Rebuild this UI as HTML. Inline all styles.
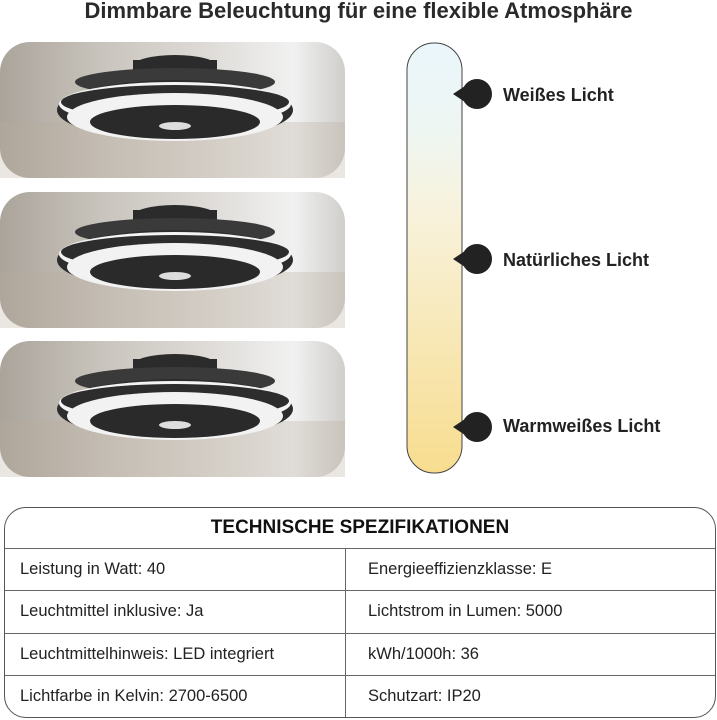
<!DOCTYPE html>
<html><head><meta charset="utf-8"><style>
body{margin:0;width:717px;height:720px;background:#fff;position:relative;overflow:hidden;font-family:"Liberation Sans",sans-serif;color:#1e1e1e}
.t{position:absolute;left:0;width:717px;top:-2px;text-align:center;font-size:22px;font-weight:bold;color:#2a2a2a}
.lab{position:absolute;left:503px;font-size:18px;font-weight:bold;color:#222}
table{position:absolute;left:4px;top:507px;width:712px;height:211px;border-collapse:separate;border-spacing:0;border:1.5px solid #555;border-radius:22px;overflow:hidden}
td{border-top:1px solid #666;font-size:16.5px;padding:0 0 0 15px;color:#222}
td.r{border-left:1px solid #666;padding-left:22px}
th{font-size:19px;font-weight:900;height:38px;color:#111}
</style></head><body>
<div class="t">Dimmbare Beleuchtung für eine flexible Atmosphäre</div>
<svg width="717" height="500" style="position:absolute;left:0;top:0">
<defs>
<linearGradient id="bg" x1="0" x2="1">
<stop offset="0" stop-color="#aaa49b"/><stop offset=".3" stop-color="#c9c4bd"/><stop offset=".6" stop-color="#dedbd7"/><stop offset=".85" stop-color="#f1f1f1"/><stop offset="1" stop-color="#d0cecb"/></linearGradient>
<linearGradient id="bar" x1="0" y1="0" x2="0" y2="1">
<stop offset="0" stop-color="#eaf6fb"/><stop offset=".2" stop-color="#eef6f3"/><stop offset=".4" stop-color="#f8f2db"/><stop offset="1" stop-color="#f8dd8f"/></linearGradient>
<g id="fan">
<rect x="0" y="0" width="345" height="136" rx="30" fill="url(#bg)"/>
<rect x="0" y="80" width="345" height="56" fill="#b8ab9c" opacity=".3"/>
<ellipse cx="175" cy="24" rx="42" ry="11" fill="#2b2b2b"/>
<rect x="133" y="18" width="84" height="14" fill="#2b2b2b"/>
<ellipse cx="175" cy="40" rx="100" ry="14" fill="#3a3a3a"/>
<ellipse cx="175" cy="68" rx="118" ry="30" fill="#2d2d2d"/>
<ellipse cx="175" cy="62" rx="116" ry="22" fill="#f4f4f4"/>
<ellipse cx="175" cy="60" rx="114" ry="17" fill="#2d2d2d"/>
<ellipse cx="175" cy="75" rx="108" ry="24" fill="#f2f2f2"/>
<ellipse cx="175" cy="80" rx="85" ry="17" fill="#2a2a2a"/>
<ellipse cx="175" cy="84" rx="16" ry="4" fill="#ddd"/>
</g>
</defs>
<use href="#fan" x="0" y="42"/>
<use href="#fan" x="0" y="192"/>
<use href="#fan" x="0" y="341"/>
<rect x="407" y="43" width="55" height="430" rx="27" fill="url(#bar)" stroke="#444" stroke-width="1"/>
<g fill="#222">
<circle cx="477" cy="94" r="15"/><polygon points="453,94 468,84 468,104"/>
<circle cx="477" cy="259" r="15"/><polygon points="453,259 468,249 468,269"/>
<circle cx="477" cy="427" r="15"/><polygon points="453,427 468,417 468,437"/>
</g>
</svg>
<div class="lab" style="top:85px">Weißes Licht</div>
<div class="lab" style="top:250px">Natürliches Licht</div>
<div class="lab" style="top:416px">Warmweißes Licht</div>
<table>
<tr><th colspan="2">TECHNISCHE SPEZIFIKATIONEN</th></tr>
<tr><td style="width:325px">Leistung in Watt: 40</td><td class="r">Energieeffizienzklasse: E</td></tr>
<tr><td>Leuchtmittel inklusive: Ja</td><td class="r">Lichtstrom in Lumen: 5000</td></tr>
<tr><td>Leuchtmittelhinweis: LED integriert</td><td class="r">kWh/1000h: 36</td></tr>
<tr><td>Lichtfarbe in Kelvin: 2700-6500</td><td class="r">Schutzart: IP20</td></tr>
</table>
</body></html>
